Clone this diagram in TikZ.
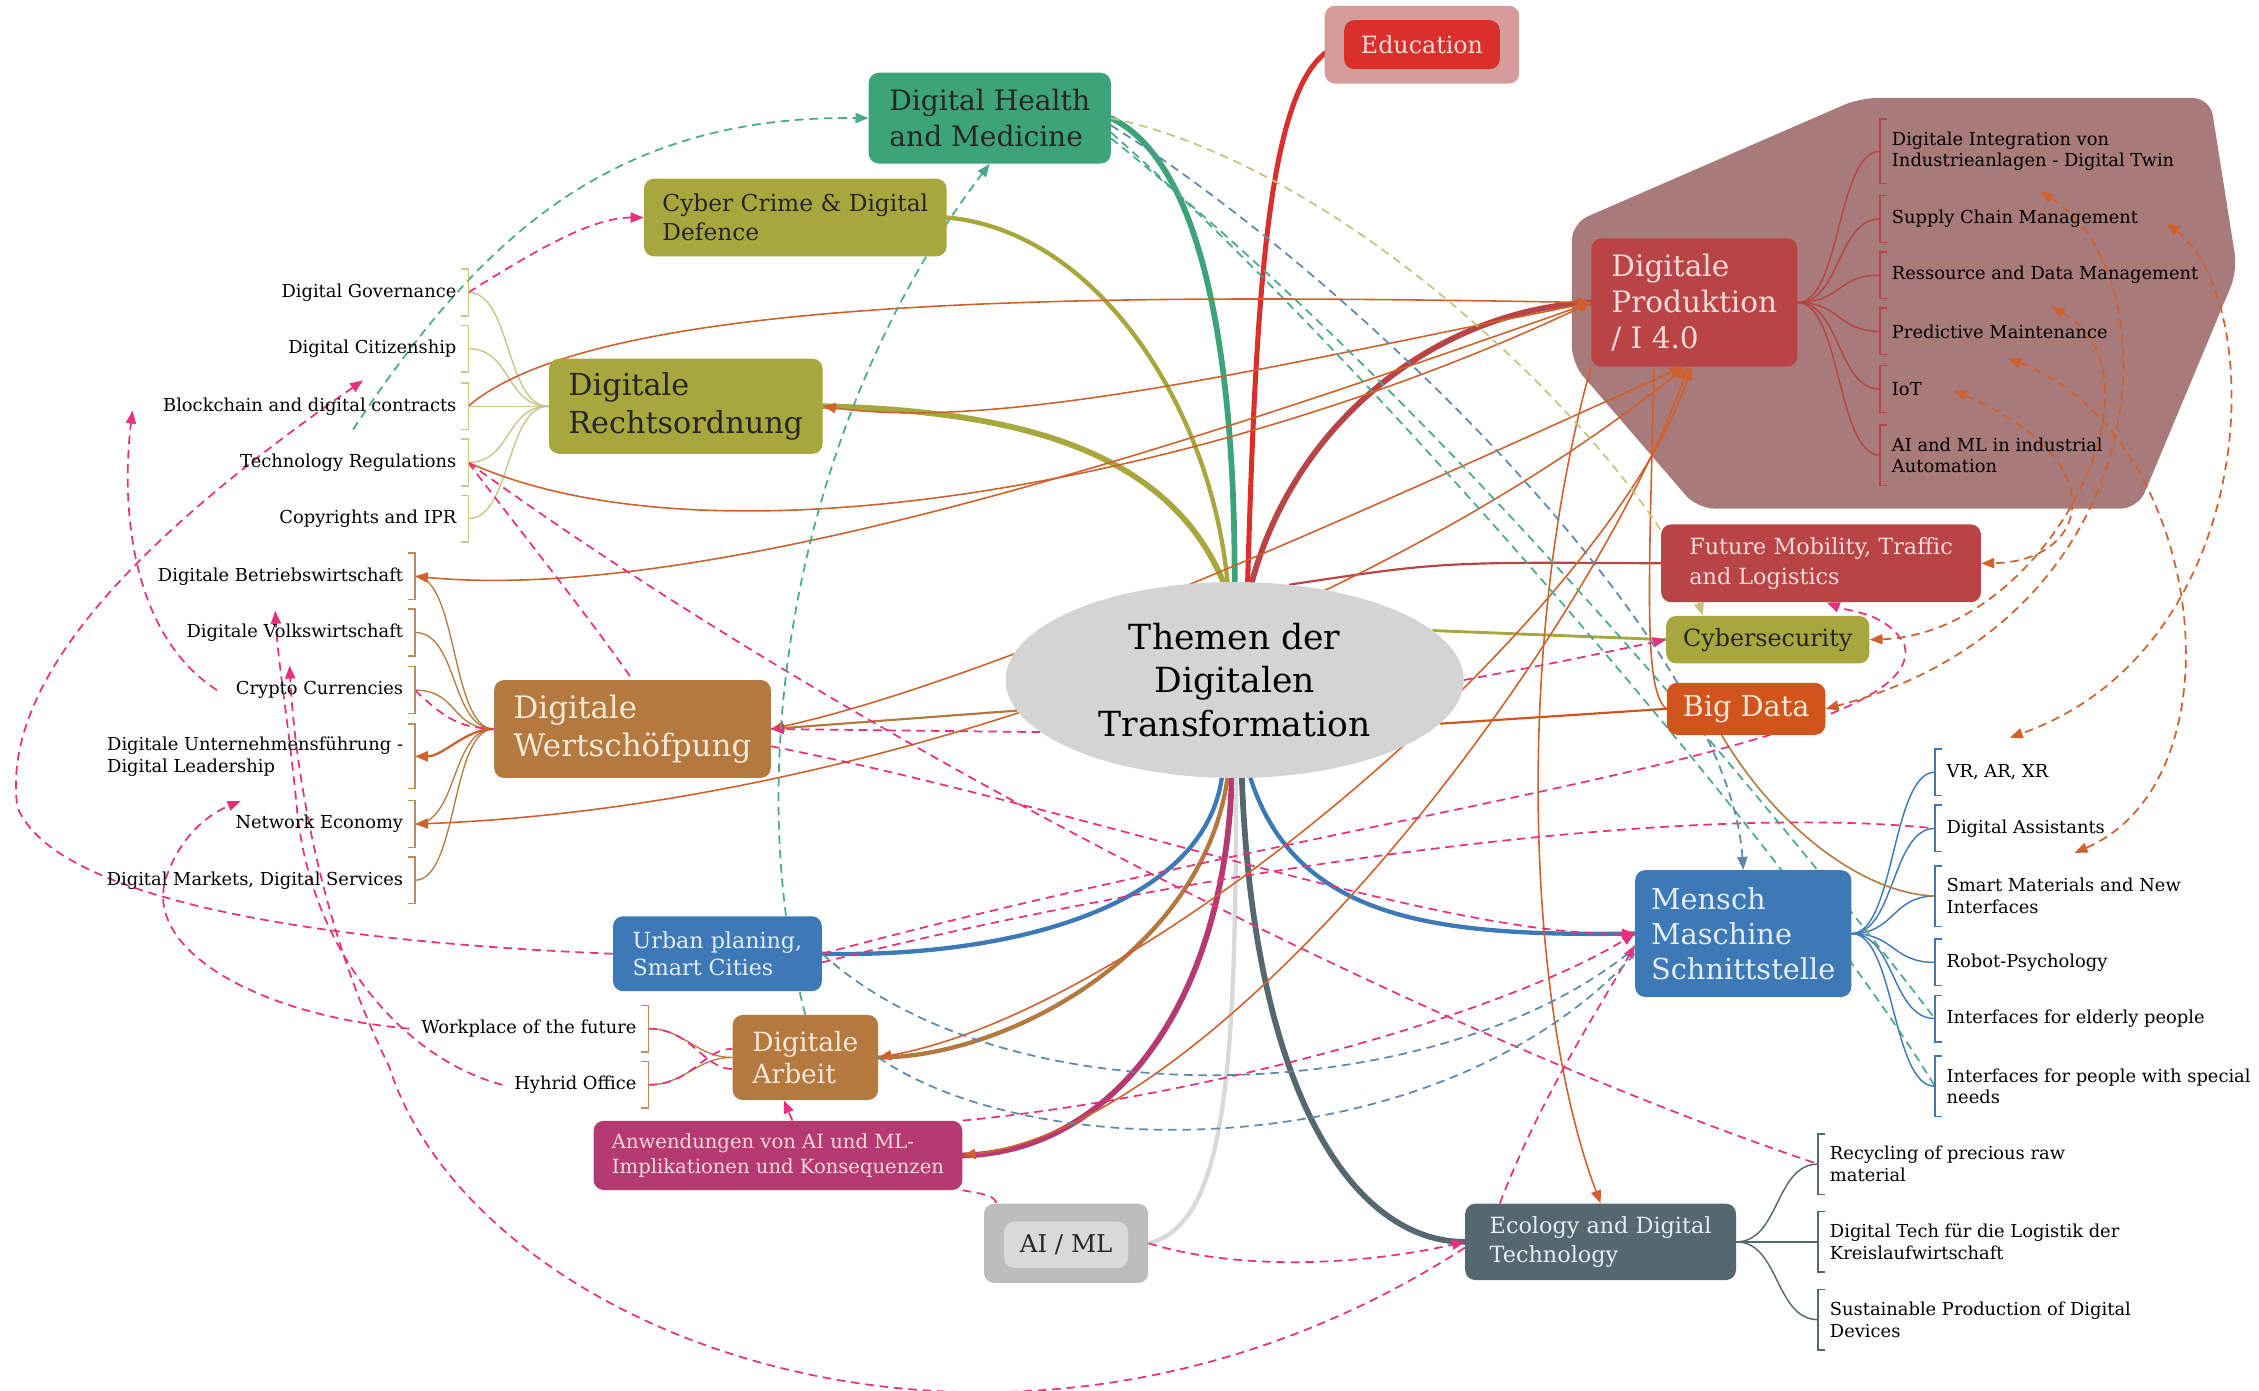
\documentclass[tikz,border=0pt]{standalone}
\usepackage{fontspec}
\setmainfont{DejaVu Serif}
\usetikzlibrary{arrows.meta,shapes.geometric}
\pgfdeclarelayer{back}
\pgfdeclarelayer{links}
\pgfsetlayers{back,links,main}

\definecolor{olivebox}{HTML}{A8A73E}
\definecolor{healthgreen}{HTML}{3DA47A}
\definecolor{edured}{HTML}{D9302C}
\definecolor{edupale}{HTML}{D69B9B}
\definecolor{prodred}{HTML}{B94446}
\definecolor{prodzone}{HTML}{A87A7A}
\definecolor{bigorange}{HTML}{D2541D}
\definecolor{brownbox}{HTML}{B3793E}
\definecolor{bluebox}{HTML}{3E79B7}
\definecolor{magbox}{HTML}{B53A72}
\definecolor{slatebox}{HTML}{55686F}
\definecolor{greyin}{HTML}{D9D9D9}
\definecolor{greyout}{HTML}{BDBDBD}
\definecolor{coregrey}{HTML}{D4D4D4}
\definecolor{linkorange}{HTML}{D0602C}
\definecolor{linkpink}{HTML}{E8307C}
\definecolor{linkteal}{HTML}{4AA88C}
\definecolor{linkblue}{HTML}{5E87B0}
\definecolor{linkkhaki}{HTML}{C5C47C}
\definecolor{leafolive}{HTML}{C8C78E}
\definecolor{leafbrown}{HTML}{C08A55}
\definecolor{lighttext}{HTML}{F6E8D8}
\definecolor{pinktext}{HTML}{F8D9D9}
\definecolor{bluetext}{HTML}{E4ECF6}

\newcommand{\leaffont}{\fontsize{12.4}{15}\selectfont}

\tikzset{
  topic/.style={rectangle, rounded corners=7pt, align=left, inner sep=0pt},
  lleaf/.style={anchor=east, font=\leaffont, inner xsep=8pt, inner ysep=8.5pt, minimum height=32pt, align=left},
  rleaf/.style={lleaf, anchor=west},
  branch/.style={line width=#1, line cap=round},
  link/.style={linkorange, line width=1.1pt},
  dlink/.style={line width=1.2pt, dash pattern=on 6pt off 4pt},
  tip/.style={arrows={-Triangle[length=9pt,width=7pt]}},
  tips/.style={arrows={Triangle[length=9pt,width=7pt]-Triangle[length=9pt,width=7pt]}},
}

\begin{document}
\begin{tikzpicture}[x=1pt, y=-1pt]
\useasboundingbox (0,0) rectangle (1568,965);

\begin{pgfonlayer}{back}
\fill[prodzone, rounded corners=12pt] (1291,68) -- (1534,68) -- (1553,188) -- (1484,353) -- (1178,353) -- (1091,252) -- (1091,155) -- cycle;
\end{pgfonlayer}

\node[ellipse, fill=coregrey, minimum width=318pt, minimum height=136pt, inner sep=0pt, align=center, font=\fontsize{24}{30}\selectfont] (core) at (857,472) {Themen der\\Digitalen\\Transformation};

\node[topic, fill=edupale, minimum width=135pt, minimum height=54pt] (edubg) at (987,31) {};
\node[topic, fill=edured, text=pinktext, minimum width=108pt, minimum height=34pt, font=\fontsize{16.5}{20}\selectfont] (edu) at (987,31) {Education};
\node[topic, fill=healthgreen, text=black!85, minimum width=168pt, minimum height=63pt, font=\fontsize{19.5}{25}\selectfont] (health) at (687,82) {Digital Health\\and Medicine};
\node[topic, fill=olivebox, text=black!85, minimum width=210pt, minimum height=54pt, font=\fontsize{16.2}{20}\selectfont] (cyber) at (552,151) {Cyber Crime \& Digital\\Defence};
\node[topic, fill=olivebox, text=black!85, minimum width=190pt, minimum height=66pt, font=\fontsize{21}{26}\selectfont] (recht) at (476,282) {Digitale\\Rechtsordnung};
\node[topic, fill=brownbox, text=lighttext, minimum width=192pt, minimum height=68pt, font=\fontsize{21.5}{26}\selectfont] (wert) at (439,506) {Digitale\\Wertschöfpung};
\node[topic, fill=prodred, text=pinktext, minimum width=143pt, minimum height=89pt, font=\fontsize{20.5}{25}\selectfont] (prod) at (1176,210) {Digitale\\Produktion\\/ I 4.0};
\node[topic, fill=prodred, text=pinktext, minimum width=222pt, minimum height=54pt, font=\fontsize{15.5}{21}\selectfont] (future) at (1264,391) {Future Mobility, Traffic\\and Logistics};
\node[topic, fill=olivebox, text=black!85, minimum width=141pt, minimum height=33pt, font=\fontsize{16.5}{20}\selectfont] (cybsec) at (1227,444) {Cybersecurity};
\node[topic, fill=bigorange, text=lighttext, minimum width=110pt, minimum height=36pt, font=\fontsize{20}{24}\selectfont] (bigdata) at (1212,492) {Big Data};
\node[topic, fill=bluebox, text=bluetext, minimum width=150pt, minimum height=88pt, font=\fontsize{20}{24.5}\selectfont] (mensch) at (1210,648) {Mensch\\Maschine\\Schnittstelle};
\node[topic, fill=bluebox, text=bluetext, minimum width=145pt, minimum height=52pt, font=\fontsize{15.4}{19}\selectfont] (urban) at (498,662) {Urban planing,\\Smart Cities};
\node[topic, fill=brownbox, text=lighttext, minimum width=101pt, minimum height=59pt, font=\fontsize{18.4}{22}\selectfont] (arbeit) at (559,734) {Digitale\\Arbeit};
\node[topic, fill=magbox, text=pinktext, minimum width=256pt, minimum height=48pt, font=\fontsize{13.6}{17}\selectfont] (anw) at (540,802) {Anwendungen von AI und ML-\\Implikationen und Konsequenzen};
\node[topic, fill=greyout, minimum width=114pt, minimum height=55pt] (aimlbg) at (740,863) {};
\node[topic, fill=greyin, text=black!85, minimum width=86pt, minimum height=32pt, font=\fontsize{17}{20}\selectfont] (aiml) at (740,864) {AI / ML};
\node[topic, fill=slatebox, text=bluetext, minimum width=188pt, minimum height=53pt, font=\fontsize{15.5}{20}\selectfont] (eco) at (1111,862) {Ecology and Digital\\Technology};

\node[lleaf] (gov) at (325,203) {Digital Governance};
\node[lleaf] (citizen) at (325,242) {Digital Citizenship};
\node[lleaf] (chain) at (325,282) {Blockchain and digital contracts};
\node[lleaf] (techreg) at (325,321) {Technology Regulations};
\node[lleaf] (ipr) at (325,360) {Copyrights and IPR};

\node[lleaf] (bwl) at (288,400) {Digitale Betriebswirtschaft};
\node[lleaf] (vwl) at (288,439) {Digitale Volkswirtschaft};
\node[lleaf] (crypto) at (288,479) {Crypto Currencies};
\node[lleaf] (leader) at (288,525) {Digitale Unternehmensführung -\\Digital Leadership};
\node[lleaf] (network) at (288,572) {Network Economy};
\node[lleaf] (markets) at (288,611) {Digital Markets, Digital Services};

\node[rleaf] (twin) at (1305,105) {Digitale Integration von\\Industrieanlagen - Digital Twin};
\node[rleaf] (supply) at (1305,152) {Supply Chain Management};
\node[rleaf] (ressource) at (1305,191) {Ressource and Data Management};
\node[rleaf] (maint) at (1305,230) {Predictive Maintenance};
\node[rleaf] (iot) at (1305,270) {IoT};
\node[rleaf] (automation) at (1305,316) {AI and ML in industrial\\Automation};

\node[rleaf] (vrar) at (1343,536) {VR, AR, XR};
\node[rleaf] (assist) at (1343,575) {Digital Assistants};
\node[rleaf] (smart) at (1343,622) {Smart Materials and New\\Interfaces};
\node[rleaf] (robot) at (1343,668) {Robot-Psychology};
\node[rleaf] (elderly) at (1343,707) {Interfaces for elderly people};
\node[rleaf] (special) at (1343,754) {Interfaces for people with special\\needs};

\node[rleaf] (recycle) at (1262,808) {Recycling of precious raw\\material};
\node[rleaf] (logistik) at (1262,862) {Digital Tech für die Logistik der\\Kreislaufwirtschaft};
\node[rleaf] (devices) at (1262,916) {Sustainable Production of Digital\\Devices};

\node[lleaf] (workplace) at (450,714) {Workplace of the future};
\node[lleaf] (hybrid) at (450,753) {Hyhrid Office};

\coordinate (twintip) at (1416,133);
\coordinate (supplytip) at (1504,155);
\coordinate (restip) at (1424,213);
\coordinate (mainttip) at (1394,249);
\coordinate (iottip) at (1356,271);
\coordinate (vrtip) at (1395,512);
\coordinate (assisttip) at (1440,592);
\coordinate (chaintip) at (252,264);
\coordinate (blocktip) at (92,285);
\coordinate (vwltip) at (191,424);
\coordinate (cryptotip) at (201,462);
\coordinate (nettip) at (167,556);

\foreach \n in {gov,citizen,chain,techreg,ipr}
  \draw[leafolive, line width=1pt] ([xshift=-5pt]\n.north east) -- (\n.north east) -- (\n.south east) -- ([xshift=-5pt]\n.south east);
\foreach \n in {bwl,vwl,crypto,leader,network,markets,workplace,hybrid}
  \draw[leafbrown, line width=1pt] ([xshift=-5pt]\n.north east) -- (\n.north east) -- (\n.south east) -- ([xshift=-5pt]\n.south east);
\foreach \n in {twin,supply,ressource,maint,iot,automation}
  \draw[prodred, line width=1pt] ([xshift=5pt]\n.north west) -- (\n.north west) -- (\n.south west) -- ([xshift=5pt]\n.south west);
\foreach \n in {vrar,assist,smart,robot,elderly,special}
  \draw[bluebox, line width=1pt] ([xshift=5pt]\n.north west) -- (\n.north west) -- (\n.south west) -- ([xshift=5pt]\n.south west);
\foreach \n in {recycle,logistik,devices}
  \draw[slatebox, line width=1pt] ([xshift=5pt]\n.north west) -- (\n.north west) -- (\n.south west) -- ([xshift=5pt]\n.south west);

\begin{pgfonlayer}{links}
% branches out of the centre
\draw[branch=3.5pt, edured] ([xshift=9pt]core.north) .. controls (872,200) and (880,40) .. (edu.west);
\draw[branch=4pt, healthgreen] ([xshift=0pt]core.north) .. controls (857,230) and (830,110) .. (health.east);
\draw[branch=3pt, olivebox] ([xshift=-5pt]core.north) .. controls (840,280) and (760,160) .. (cyber.east);
\draw[branch=4pt, olivebox] ([xshift=-8pt]core.north) .. controls (810,310) and (700,285) .. (recht.east);
\draw[branch=4pt, prodred] ([xshift=12pt]core.north) .. controls (900,290) and (1000,215) .. (prod.west);
\draw[branch=1.5pt, prodred] (core.60) .. controls (1000,390) .. (future.west);
\draw[branch=2pt, olivebox] (core.14) -- (cybsec.west);
\draw[branch=1.5pt, bigorange] (core.-12) -- (bigdata.west);
\draw[branch=1.5pt, brownbox] (core.188) -- (wert.east);
\draw[branch=3pt, bluebox] ([xshift=-9pt]core.south) .. controls (835,630) and (700,665) .. (urban.east);
\draw[branch=3pt, brownbox] ([xshift=-5pt]core.south) .. controls (835,660) and (700,734) .. (arbeit.east);
\draw[branch=4pt, magbox] ([xshift=-2pt]core.south) .. controls (850,700) and (770,800) .. (anw.east);
\draw[branch=3pt, greyin] ([xshift=1pt]core.south) .. controls (858,750) and (850,850) .. (aimlbg.east);
\draw[branch=4pt, slatebox] ([xshift=5pt]core.south) .. controls (870,760) and (940,862) .. (eco.west);
\draw[branch=3pt, bluebox] ([xshift=11pt]core.south) .. controls (900,640) and (1000,650) .. (mensch.west);

% leaves
\foreach \n in {gov,citizen,chain,techreg,ipr}
  \draw[leafolive, line width=1pt] (recht.west) .. controls +(-30,0) and +(30,0) .. (\n.east);
\foreach \n in {bwl,vwl,crypto,network,markets}
  \draw[brownbox, line width=0.9pt] (wert.west) .. controls +(-30,0) and +(30,0) .. (\n.east);
\draw[link, line width=1.6pt, tip] (wert.west) .. controls +(-20,0) and +(20,0) .. (leader.east);
\foreach \n in {workplace,hybrid}
  \draw[brownbox, line width=0.9pt] (arbeit.west) .. controls +(-25,0) and +(25,0) .. (\n.east);
\foreach \n in {twin,supply,ressource,maint,iot,automation}
  \draw[prodred, line width=1pt] (prod.east) .. controls +(30,0) and +(-30,0) .. (\n.west);
\foreach \n in {vrar,assist,smart,robot,elderly,special}
  \draw[bluebox, line width=1pt] (mensch.east) .. controls +(30,0) and +(-30,0) .. (\n.west);
\foreach \n in {recycle,logistik,devices}
  \draw[slatebox, line width=1pt] (eco.east) .. controls +(30,0) and +(-30,0) .. (\n.west);

% solid cross links
\draw[link, tip] (chain.east) .. controls (420,200) and (800,205) .. (prod.west);
\draw[link, tip] (techreg.east) .. controls (500,400) and (850,330) .. (prod.west);
\draw[link, tip] (prod.west) .. controls (850,300) and (500,420) .. (bwl.east);
\draw[link, tip] (prod.west) .. controls (900,250) and (700,300) .. (recht.east);
\draw[link, tips] ([xshift=-8pt]prod.south) .. controls (1000,330) and (700,470) .. (wert.east);
\draw[link, tips] ([xshift=-6pt]prod.south) .. controls (950,430) and (600,560) .. (network.east);
\draw[link, tips] ([xshift=-2pt]prod.south) .. controls (1120,420) and (800,700) .. (arbeit.east);
\draw[link, tips] ([xshift=-4pt]prod.south) .. controls (1100,450) and (850,780) .. (anw.east);
\draw[link, tip] (prod.south west) .. controls (1050,450) and (1060,700) .. (eco.north);
\draw[link] ([xshift=-28pt]prod.south) .. controls (1145,400) and (1140,480) .. (bigdata.west);
\draw[link, brownbox] ([xshift=-17pt]bigdata.south) .. controls (1230,570) and (1290,620) .. (smart.west);

% dashed cross links
\draw[dlink, linkpink, tip] (gov.east) .. controls (370,175) and (410,151) .. (cyber.west);
\draw[dlink, linkpink] (techreg.east) .. controls (600,520) and (1000,720) .. (recycle.west);
\draw[dlink, linkpink] (techreg.east) .. controls (370,380) and (410,430) .. (wert.north);
\draw[dlink, linkpink, tip] (core.195) -- (wert.east);
\draw[dlink, linkpink, tip] (core.0) .. controls (1080,460) .. (cybsec.west);
\draw[dlink, linkpink, tip] (urban.east) .. controls (950,560) and (1340,520) .. (1322,448) .. controls (1310,425) and (1285,425) .. ([xshift=4pt]future.south);
\draw[dlink, linkpink] ([yshift=-6pt]urban.east) .. controls (800,610) and (1150,555) .. (assist.west);
\draw[dlink, linkpink, tip] ([yshift=-12pt]wert.east) .. controls (750,560) and (1000,650) .. (mensch.west);
\draw[dlink, linkpink, tip] (anw.north east) .. controls (850,760) and (1050,700) .. (mensch.west);
\draw[dlink, linkpink, tip] ([xshift=-70pt]eco.north) .. controls (1070,760) and (1110,700) .. ([yshift=-8pt]mensch.west);
\draw[dlink, linkpink, tip] (aimlbg.east) .. controls (870,885) and (960,875) .. (eco.west);
\draw[dlink, linkpink, tip] (anw.south east) .. controls (690,830) .. (aiml.north west);
\draw[dlink, linkpink, tip] ([xshift=10pt]anw.north) -- ([xshift=-15pt]arbeit.south);
\draw[dlink, linkpink, tip] ([yshift=-4pt]eco.west) .. controls (700,1070) and (330,930) .. (270,740) .. controls (225,650) and (205,540) .. (cryptotip);
\draw[dlink, linkpink, tip] (hybrid.west) .. controls (280,735) and (215,660) .. (206,560) .. controls (200,500) and (193,460) .. (vwltip);
\draw[dlink, linkpink, tip] (urban.west) .. controls (250,655) and (40,630) .. (12,560) .. controls (0,470) and (100,370) .. (chaintip);
\draw[dlink, linkpink, tip] (workplace.west) .. controls (180,705) and (100,660) .. (115,610) .. controls (125,580) and (145,565) .. (nettip);
\draw[dlink, linkpink, tip] ([xshift=-5pt]crypto.west) .. controls (90,440) and (84,350) .. (blocktip);
\draw[dlink, linkpink] (crypto.east) .. controls (310,500) and (320,505) .. (wert.west);
\draw[dlink, linkpink] (workplace.east) .. controls +(30,0) and +(-20,0) .. ([yshift=-8pt]arbeit.west);
\draw[dlink, linkpink] (hybrid.east) .. controls +(30,0) and +(-20,0) .. ([yshift=6pt]arbeit.west);

\draw[dlink, linkteal, tip] ([xshift=30pt]chain.south) .. controls (330,170) and (420,80) .. (health.west);
\draw[dlink, linkteal, tip] (arbeit.north) .. controls (510,520) and (560,280) .. (health.south);
\draw[dlink, linkteal] ([yshift=-10pt]health.east) .. controls (950,250) and (1250,600) .. (special.west);
\draw[dlink, linkteal] ([yshift=-14pt]health.east) .. controls (1000,280) and (1230,560) .. (elderly.west);
\draw[dlink, linkblue, tip] ([yshift=-5pt]health.east) .. controls (950,200) and (1200,450) .. (mensch.north);
\draw[dlink, linkkhaki, tip] (health.east) .. controls (950,120) and (1150,330) .. ([xshift=-45pt]cybsec.north);
\draw[dlink, linkblue] (urban.east) .. controls (700,780) and (1000,770) .. ([yshift=-10pt]mensch.west);
\draw[dlink, linkblue] (arbeit.east) .. controls (720,810) and (1000,810) .. ([yshift=-14pt]mensch.west);

\draw[dlink, linkorange, tips] (twintip) .. controls (1510,190) and (1500,430) .. (bigdata.east);
\draw[dlink, linkorange, tips] (supplytip) .. controls (1575,210) and (1570,450) .. (vrtip);
\draw[dlink, linkorange, tips] (restip) .. controls (1510,260) and (1420,440) .. (cybsec.east);
\draw[dlink, linkorange, tips] (mainttip) .. controls (1530,300) and (1560,540) .. (assisttip);
\draw[dlink, linkorange, tips] (iottip) .. controls (1470,320) and (1450,390) .. (future.east);
\end{pgfonlayer}
\end{tikzpicture}
\end{document}
